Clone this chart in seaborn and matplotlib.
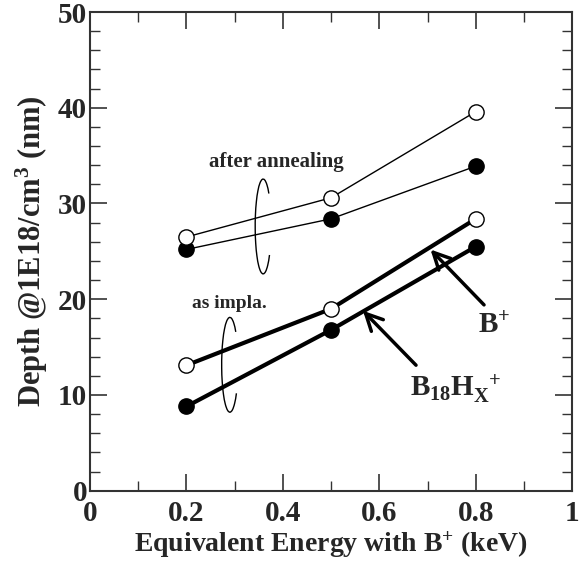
import numpy as np
import pandas as pd
import seaborn as sns
import matplotlib.pyplot as plt
from matplotlib.patches import Arc
from matplotlib.ticker import MultipleLocator

# energies (keV) and depth values
energy = [0.2, 0.5, 0.8]
b18_anneal = [25.2, 28.4, 33.9]
bplus_anneal = [26.5, 30.6, 39.6]
bplus_impl = [13.1, 19.0, 28.4]
b18_impl = [8.8, 16.8, 25.5]

sns.set_style("ticks")
plt.rcParams['font.family'] = ['Liberation Serif', 'DejaVu Serif']
plt.rcParams['font.weight'] = 'bold'
plt.rcParams['mathtext.fontset'] = 'custom'
plt.rcParams['mathtext.rm'] = 'Liberation Serif:bold'
plt.rcParams['mathtext.it'] = 'Liberation Serif:bold'
plt.rcParams['mathtext.bf'] = 'Liberation Serif:bold'

df = pd.DataFrame({
    'energy': energy * 4,
    'depth': b18_anneal + bplus_anneal + bplus_impl + b18_impl,
    'series': ['b18_anneal'] * 3 + ['bplus_anneal'] * 3 + ['bplus_impl'] * 3 + ['b18_impl'] * 3,
})

fig = plt.figure(figsize=(5.86, 5.67), dpi=100)
ax = fig.add_axes([0.1536, 0.1346, 0.8230, 0.8442])

# filled first so the open circle sits on top at 0.2 keV
styles = {
    'b18_anneal': dict(lw=1.0, mfc='black'),
    'bplus_anneal': dict(lw=1.0, mfc='white'),
    'bplus_impl': dict(lw=3.0, mfc='white'),
    'b18_impl': dict(lw=3.0, mfc='black'),
}
for name, st in styles.items():
    sub = df[df['series'] == name]
    sns.lineplot(data=sub, x='energy', y='depth', ax=ax, color='black',
                 lw=st['lw'], marker='o', markersize=11, markerfacecolor=st['mfc'],
                 markeredgecolor='black', markeredgewidth=1.0, zorder=3)

ax.set_xlim(0, 1)
ax.set_ylim(0, 50)
ax.xaxis.set_minor_locator(MultipleLocator(0.1))
ax.yaxis.set_major_locator(MultipleLocator(10))
ax.yaxis.set_minor_locator(MultipleLocator(2))
ax.set_xticks([0, 0.2, 0.4, 0.6, 0.8, 1.0])
ax.set_xticklabels(['0', '0.2', '0.4', '0.6', '0.8', '1'])
ax.tick_params(which='both', direction='in', top=True, right=True, color='#333333')
ax.tick_params(which='major', length=12, width=1.2, labelsize=21)
ax.tick_params(axis='x', which='major', pad=7)
ax.tick_params(axis='y', which='major', pad=2)
ax.tick_params(which='minor', length=7, width=1.0)
for lab in ax.get_xticklabels() + ax.get_yticklabels():
    lab.set_fontweight('bold')
for sp in ax.spines.values():
    sp.set_color('#333333')
    sp.set_linewidth(1.5)

ax.set_xlabel('Equivalent Energy with B$^{+}$ (keV)', fontsize=20, fontweight='bold', labelpad=2)
ax.set_ylabel('Depth @1E18/cm$^{3}$ (nm)', fontsize=22, fontweight='bold', labelpad=6)


def bracket(xc, yc, w, h):
    # open ellipse, gap on the right where the lines pass through
    def ang(t):
        t = np.radians(t)
        return np.degrees(np.arctan2(h * np.sin(t), w * np.cos(t)))
    ax.add_patch(Arc((xc, yc), w, h, theta1=ang(44), theta2=ang(323) % 360,
                     color='black', lw=1.0))


bracket(0.359, 27.6, 0.033, 9.9)
bracket(0.29, 13.15, 0.034, 9.9)
ax.text(0.387, 34.3, 'after annealing', fontsize=15, fontweight='bold', ha='center', va='center')
ax.text(0.29, 19.6, 'as impla.', fontsize=14, fontweight='bold', ha='center', va='center')

# species arrows
arrow = dict(arrowstyle='->', lw=2.5, color='black', mutation_scale=30)
ax.annotate('', xy=(0.702, 25.4), xytext=(0.821, 19.2), arrowprops=arrow)
ax.annotate('', xy=(0.562, 19.0), xytext=(0.68, 12.9), arrowprops=arrow)
ax.text(0.838, 17.3, 'B$^{+}$', fontsize=21, ha='center', va='center')
ax.text(0.758, 10.6, r'B$_{18}$H$_{X}^{\ \ +}$', fontsize=21, ha='center', va='center')

fig.savefig('out.png', dpi=100)
